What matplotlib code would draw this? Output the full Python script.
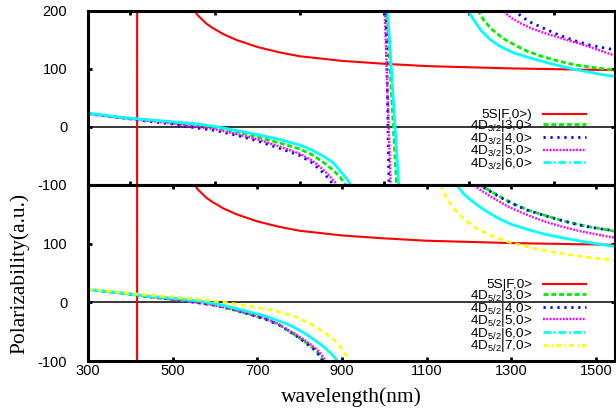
import numpy as np
import matplotlib
matplotlib.use("Agg")
import matplotlib.pyplot as plt

plt.rcParams['axes.unicode_minus'] = False
plt.rcParams['font.family'] = ['Liberation Sans', 'DejaVu Sans']
plt.rcParams['mathtext.fontset'] = 'custom'
plt.rcParams['mathtext.rm'] = 'Liberation Sans'
plt.rcParams['mathtext.it'] = 'Liberation Sans:italic'
nan = np.nan

# ---------------- data (wavelength nm, polarizability a.u.) ----------------
red_x = [300, 415.5, 416.5, 505, 530, 552, 560, 570, 580, 594, 620, 651, 700, 750, 800,
         850, 900, 1000, 1100, 1200, 1300, 1420, 1545]
red_y = [-1000, -1000, 1000, 265, 225, 200, 192, 185, 178, 171, 160, 150, 138, 129, 122,
         118, 114, 109, 105, 103, 101, 99.5, 98]

# 4D3/2 (top panel)
d32_3_x = [300, 350, 400, 450, 500, 550, 600, 650, 700, 750, 800, 830, 860, 880, 895, 905, 911, 916, nan,
           1003.7, 1031.3, nan,
           1218, 1222, 1235, 1253, 1280, 1309, 1340, 1371, 1410, 1451, 1500, 1545]
d32_3_y = [23, 19, 15, 11, 8, 4, -1, -8, -17, -27, -38, -48, -63, -75, -86, -96, -103, -112, nan,
           230, -130, nan,
           215, 200, 184, 169, 153, 141, 130, 122, 114, 107, 102, 98]
d32_4_x = [300, 350, 400, 450, 500, 550, 600, 650, 700, 750, 800, 830, 850, 866, 878, 884, nan,
           1003.3, 1011.7, nan,
           1304, 1309, 1325, 1347, 1380, 1411, 1445, 1481, 1515, 1545]
d32_4_y = [23, 18, 14, 9, 5, -1, -6, -14, -24, -36, -49, -62, -75, -87, -98, -110, nan,
           230, -130, nan,
           215, 200, 190, 180, 169, 159, 150, 142, 137, 133]
d32_5_x = [300, 350, 400, 450, 500, 550, 600, 650, 700, 750, 800, 830, 850, 870, 886, 892, nan,
           999.6, 1016.4, nan,
           1276, 1281, 1300, 1324, 1347, 1387, 1427, 1465, 1505, 1545]
d32_5_y = [23, 18, 14, 10, 6, 1, -4, -12, -21, -33, -46, -58, -70, -84, -97, -110, nan,
           230, -130, nan,
           215, 200, 188, 178, 170, 160, 151, 143, 133, 123]
d32_6_x = [300, 350, 400, 450, 500, 550, 600, 650, 700, 750, 800, 830, 860, 880, 895, 910, 921, 928, nan,
           1005.4, 1036.6, nan,
           1195, 1199, 1210, 1229, 1250, 1269, 1290, 1309, 1340, 1364, 1400, 1427, 1460, 1481, 1510, 1545]
d32_6_y = [24, 19, 15, 12, 9, 6, 1, -6, -13, -21, -31, -40, -52, -62, -75, -88, -100, -110, nan,
           230, -130, nan,
           215, 200, 186, 166, 151, 141, 133, 127, 120, 115, 108, 103, 98, 95, 91, 87]

# 4D5/2 (bottom panel)
d52_3_x = [300, 350, 400, 450, 500, 564, 600, 641, 680, 721, 750, 768, 790, 806, 825, 839, 848, 853, 858, nan,
           1221, 1227, 1250, 1276, 1305, 1340, 1380, 1418, 1450, 1481, 1515, 1545]
d52_3_y = [22, 18, 14, 9, 5, -1, -5, -12, -20, -29, -38, -46, -56, -64, -74, -82, -90, -96, -105, nan,
           215, 200, 190, 179, 168, 157, 148, 140, 134, 129, 125, 121]
d52_4_x = [300, 350, 400, 450, 500, 564, 600, 641, 680, 721, 750, 768, 790, 805, 823, 837, 846, 851, 856, nan,
           1219, 1225, 1248, 1274, 1303, 1338, 1378, 1416, 1448, 1479, 1513, 1545]
d52_4_y = [22, 18, 14, 9, 5, -1, -5, -12, -20, -29, -38, -46, -56, -64, -74, -82, -90, -96, -105, nan,
           215, 200, 190, 179, 168, 157, 148, 140, 134, 129, 125, 122]
d52_5_x = [300, 350, 400, 450, 500, 564, 600, 641, 680, 721, 750, 770, 792, 809, 828, 842, 851, 857, 862, nan,
           1205, 1211, 1230, 1262, 1290, 1324, 1355, 1387, 1420, 1458, 1500, 1545]
d52_5_y = [22, 18, 14, 9, 5, -1, -5, -11, -19, -28, -37, -46, -55, -63, -73, -81, -89, -95, -105, nan,
           215, 200, 190, 176, 164, 153, 144, 136, 129, 122, 116, 110]
d52_6_x = [300, 350, 400, 450, 500, 564, 600, 641, 680, 721, 760, 782, 810, 829, 850, 862, 875, 886, 892, nan,
           1166, 1171, 1186, 1206, 1225, 1246, 1270, 1300, 1340, 1380, 1420, 1458, 1500, 1545]
d52_6_y = [22, 18, 14, 10, 7, 2, -2, -9, -16, -24, -34, -41, -52, -61, -72, -79, -88, -97, -107, nan,
           215, 200, 186, 173, 163, 153, 143, 133, 124, 116, 110, 105, 100, 95]
d52_7_x = [300, 350, 400, 450, 500, 564, 611, 658, 700, 752, 792, 829, 862, 886, 905, 916, 921, nan,
           1128, 1133, 1142, 1152, 1166, 1182, 1200, 1222, 1250, 1293, 1340, 1380, 1420, 1458, 1500, 1545]
d52_7_y = [23, 19, 15, 12, 9, 5, 1, -4, -9, -16, -25, -38, -53, -67, -84, -97, -105, nan,
           215, 200, 185, 172, 158, 146, 135, 124, 114, 103, 94, 88, 83, 79, 75, 72]

top_labels = ['5S|F,0>)'] + [r'4D$_{\mathregular{3/2}}$|%d,0>' % k for k in (3, 4, 5, 6)]
bot_labels = ['5S|F,0>'] + [r'4D$_{\mathregular{5/2}}$|%d,0>' % k for k in (3, 4, 5, 6, 7)]
xticks_top = [400, 600, 800, 1000, 1200, 1400]
xticks_bot = [300, 500, 700, 900, 1100, 1300, 1500]
yticks = [-100, 0, 100, 200]

# ---------------- styles ----------------
st_red = dict(color='#ff0000', lw=1.5, ls='-')
st_g = dict(color='#00ee00', lw=2.0, ls=(0, (1.8, 1.0)))
st_b = dict(color='#0000ff', lw=2.0, ls=(0, (0.8, 1.7)))
st_m = dict(color='#ff00ff', lw=1.7, ls=(0, (0.8, 0.6)))
st_c = dict(color='#00ffff', lw=2.0, ls='-')
st_y = dict(color='#ffff00', lw=2.0, ls=(0, (1.8, 1.45)))

fig = plt.figure(figsize=(6.16, 4.19), dpi=100)
W, H = 616, 419
L, R = 88 / W, 615 / W
ax1 = fig.add_axes([L, 1 - 185 / H, R - L, 174 / H])
ax2 = fig.add_axes([L, 1 - 361 / H, R - L, 176 / H])

def style(ax):
    ax.set_xlim(300, 1545)
    ax.set_ylim(-100, 200)
    for s in ax.spines.values():
        s.set_linewidth(2.2)
    ax.tick_params(direction='in', length=3.2, width=2.0, top=True, right=True,
                   labelsize=10.5)
    ax.tick_params(axis='y', pad=15)
    ax.tick_params(axis='x', pad=2)
    ax.axhline(0, color='black', lw=1.1, zorder=1)
    ax.set_yticks(yticks)

style(ax1)
style(ax2)

ax1.plot(red_x, red_y, label=top_labels[0], **st_red)
ax1.plot(d32_3_x, d32_3_y, label=top_labels[1], **st_g)
ax1.plot(d32_4_x, d32_4_y, label=top_labels[2], **st_b)
ax1.plot(d32_5_x, d32_5_y, label=top_labels[3], **st_m)
ax1.plot(d32_6_x, d32_6_y, label=top_labels[4], **st_c)
ax1.set_xticks(xticks_top)
ax1.set_xticklabels([])
ax1.set_yticklabels([str(v) for v in yticks])

ax2.plot(red_x, red_y, label=bot_labels[0], **st_red)
ax2.plot(d52_3_x, d52_3_y, label=bot_labels[1], **st_g)
ax2.plot(d52_4_x, d52_4_y, label=bot_labels[2], **st_b)
ax2.plot(d52_5_x, d52_5_y, label=bot_labels[3], **st_m)
ax2.plot(d52_6_x, d52_6_y, label=bot_labels[4], **st_c)
ax2.plot(d52_7_x, d52_7_y, label=bot_labels[5], **st_y)
ax2.set_xticks(xticks_bot)
ax2.set_xticklabels([str(v) for v in xticks_bot])
ax2.set_yticklabels(['-100', '0', '100', ''])

ax2.set_xlabel('wavelength(nm)', family='Liberation Serif', fontsize=15.5, labelpad=7)
ax2.set_ylabel('Polarizability(a.u.)', family='Liberation Serif', fontsize=15.5, labelpad=6)

leg_kw = dict(loc='upper right', frameon=False, markerfirst=False, fontsize=9.7,
              handlelength=3.2, handletextpad=0.8, labelspacing=-0.25,
              borderpad=0, borderaxespad=0)
leg1 = ax1.legend(bbox_to_anchor=(0.945, 0.437), **leg_kw)
leg2 = ax2.legend(bbox_to_anchor=(0.945, 0.467), **leg_kw)
leg1.get_lines()[4].set_linestyle((0, (2.8, 1.0, 0.6, 1.0)))
leg2.get_lines()[4].set_linestyle((0, (2.8, 1.0, 0.6, 1.0)))
leg2.get_lines()[5].set_linestyle((0, (1.8, 1.1, 0.6, 1.1)))

fig.savefig('out.png', dpi=100)
